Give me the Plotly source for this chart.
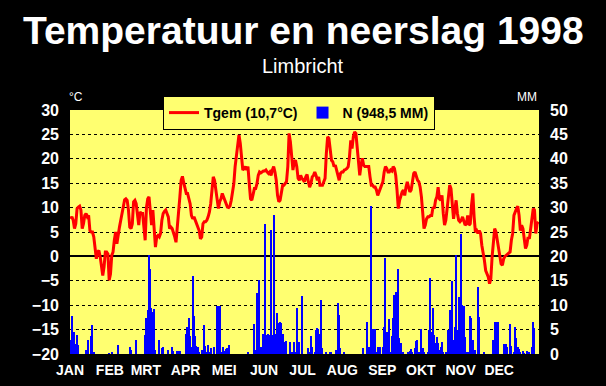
import plotly.graph_objects as go

months = ["JAN", "FEB", "MRT", "APR", "MEI", "JUN", "JUL", "AUG", "SEP", "OKT", "NOV", "DEC"]
month_days = [31, 28, 31, 30, 31, 30, 31, 31, 30, 31, 30, 31]

# Daily mean temperature (°C)
tgem_jan = [7.7, 8.1, 7.4, 5.7, 6.7, 9.8, 10.1, 10.3, 9.5, 5.7, 6.7, 8.4, 8.8, 8.1, 8.4, 5.3, 5.0, 5.0, 4.0, 1.9,
            -0.5, 0.9, 1.2, -0.1, -2.2, -3.9, -2.2, 0.9, 0.9, 0.5, -4.9]
tgem_feb = [-3.6, 0.2, 0.9, 3.3, 5.0, 2.6, 4.7, 6.0, 7.4, 8.8, 10.8, 11.6, 11.8, 11.5, 9.5, 6.0, 5.7, 6.7, 11.2, 11.5,
            10.8, 8.8, 6.4, 9.1, 8.8, 8.8, 5.3, 3.3]
tgem_mrt = [10.0, 11.8, 12.2, 8.8, 6.4, 9.5, 4.7, 1.9, 4.0, 4.3, 4.0, 4.7, 7.4, 8.8, 9.2, 9.5, 8.8, 8.1, 5.7, 6.0,
            5.7, 5.0, 4.0, 2.9, 6.0, 7.4, 12.2, 15.6, 16.4, 15.1, 13.6]
tgem_apr = [12.9, 12.9, 11.5, 10.8, 8.4, 7.7, 8.1, 7.4, 7.1, 6.4, 5.3, 3.6, 4.0, 6.7, 7.1, 7.1, 7.4, 8.1, 9.1, 10.8,
            13.6, 16.3, 15.6, 13.9, 12.5, 9.8, 11.2, 11.8, 12.9, 12.2]
tgem_mei = [11.8, 11.2, 10.1, 10.0, 10.3, 11.5, 13.6, 14.9, 18.4, 20.4, 23.2, 24.9, 23.2, 20.1, 17.7, 18.0, 18.4, 17.7,
            18.4, 14.9, 11.8, 11.5, 12.9, 13.9, 13.9, 14.9, 16.6, 17.3, 17.1, 17.3, 17.5]
tgem_jun = [17.5, 17.7, 17.3, 17.0, 17.3, 16.6, 17.7, 18.4, 17.3, 15.6, 12.5, 11.2, 11.5, 13.6, 14.6, 14.6, 14.9, 15.3,
            18.4, 25.2, 23.5, 20.4, 17.7, 19.4, 19.7, 18.4, 16.0, 15.6, 16.6, 16.0]
tgem_jul = [15.6, 15.3, 16.3, 16.8, 15.3, 14.2, 14.9, 16.3, 16.6, 17.3, 16.6, 15.6, 16.3, 14.6, 14.6, 14.6, 15.3, 16.0,
            21.1, 24.5, 24.2, 21.1, 19.7, 19.4, 18.4, 18.7, 17.7, 16.6, 15.6, 17.0, 17.3]
tgem_aug = [17.3, 17.7, 17.8, 18.0, 18.4, 20.4, 23.8, 22.1, 24.5, 25.5, 25.2, 21.8, 18.4, 16.6, 18.7, 20.1, 18.7, 18.4,
            18.4, 18.4, 18.4, 16.3, 14.6, 14.6, 14.2, 14.2, 13.6, 12.5, 13.2, 14.2, 14.9]
tgem_sep = [15.3, 17.3, 18.4, 18.0, 17.3, 17.3, 17.7, 17.5, 18.4, 18.0, 16.6, 13.6, 9.8, 11.5, 12.5, 13.2, 13.6, 12.5,
            14.2, 15.3, 14.2, 13.2, 13.6, 15.6, 17.0, 17.3, 16.2, 15.6, 15.3, 14.2]
tgem_okt = [12.2, 8.8, 5.7, 6.4, 7.7, 8.1, 8.1, 8.4, 8.4, 10.1, 9.8, 11.5, 12.2, 14.2, 11.8, 11.5, 12.5, 8.8, 6.4, 7.4,
            10.3, 12.5, 14.6, 13.9, 10.3, 7.7, 9.5, 11.5, 8.8, 7.4, 7.1]
tgem_nov = [7.4, 8.1, 7.1, 6.4, 6.7, 8.4, 6.4, 6.7, 10.5, 12.9, 8.1, 5.0, 5.3, 4.7, 5.3, 4.7, 2.3, 0.9, -0.8, -2.9,
            -3.6, -4.2, -5.6, -4.6, -0.1, 2.6, 5.7, 5.0, 3.3, 0.9]
tgem_dec = [-0.1, -1.5, -1.8, -0.5, 0.0, 0.2, 0.5, 0.7, 0.9, 3.3, 4.7, 8.4, 9.3, 9.8, 10.3, 8.4, 5.3, 6.4, 5.7, 4.0,
            1.6, 2.3, 4.0, 3.6, 6.0, 8.1, 9.8, 9.5, 4.7, 6.7, 7.1]

# Daily precipitation (mm)
n_jan = [2.9, 7.8, 3.9, 4.6, 2.1, 3.9, 1.8, 0, 0, 0, 0, 0, 0.8, 0.8, 2.9, 0, 3.7, 6.0, 0.3, 0,
         0, 0, 0, 0, 0, 0, 0, 0, 0, 0, 0.2]
n_feb = [0, 0.3, 0, 0, 0, 0, 1.8, 0, 0, 0, 0, 0, 0, 0, 0, 1.5, 0.8, 0, 0, 0,
         2.9, 0, 0, 0, 0, 0, 0, 3.9]
n_mrt = [7.3, 9.0, 20.3, 17.5, 9.5, 8.7, 9.2, 0.8, 0, 0, 2.9, 0, 1.2, 1.5, 0, 0, 0, 0.8, 0, 0,
         1.5, 0.7, 0, 0, 0.7, 0.7, 0.7, 0, 0, 0, 0]
n_apr = [4.2, 5.5, 7.3, 3.6, 1.5, 15.9, 7.7, 3.6, 1.6, 1.5, 0.5, 0, 0.8, 0, 6.0, 1.6, 0.3, 1.8, 0.3, 1.2,
         0, 0, 1.5, 0, 9.9, 9.9, 9.9, 0.5, 0.5, 1.4]
n_mei = [0.7, 1.0, 1.2, 1.8, 0, 0, 0, 0, 0, 0, 0, 0, 0, 0, 0, 0, 0, 0, 0.3, 0,
         0, 0, 0, 6.2, 0.8, 12.5, 4.2, 15.2, 1.5, 0, 4.2]
n_jun = [26.7, 3.9, 3.9, 4.2, 3.9, 25.5, 3.9, 28.4, 4.0, 1.5, 8.4, 6.3, 6.6, 6.3, 4.2, 2.5, 0.5, 2.7, 0, 0,
         2.5, 0.5, 0, 2.5, 0.5, 9.4, 0.5, 2.5, 0, 11.8]
n_jul = [0, 0, 0, 0, 1.2, 0.3, 3.7, 1.5, 0, 0.5, 4.9, 5.4, 5.2, 4.2, 11.1, 1.2, 0, 0, 0.5, 0,
         0, 0.5, 0.3, 0, 0, 0, 0.8, 10.4, 8.0, 1.2, 0]
n_aug = [0, 0.5, 0, 0, 0, 0, 0, 0, 0, 0, 0, 0, 0, 0, 0, 0, 1.2, 0, 0, 6.6,
         1.5, 0.5, 30.3, 5.1, 5.1, 5.1, 0.5, 1.5, 0, 1.5, 0]
n_sep = [1.5, 5.5, 19.7, 4.5, 4.2, 7.1, 0.5, 3.6, 7.3, 12.1, 12.8, 4.0, 17.5, 3.2, 2.2, 0.3, 0.3, 0, 0, 0,
         0.5, 0.7, 1.0, 0.5, 0, 1.2, 2.6, 2.9, 0.5, 0]
n_okt = [5.1, 1.2, 0.3, 0, 0, 0.3, 4.9, 15.5, 4.6, 9.5, 3.9, 2.2, 3.4, 2.3, 0.8, 1.5, 2.5, 0.3, 0, 0.5,
         0, 4.9, 9.0, 6.0, 14.9, 2.9, 5.5, 20.3, 5.0, 11.6, 3.7]
n_nov = [24.5, 10.0, 9.8, 3.5, 0.5, 0.3, 0, 7.8, 7.3, 2.9, 0, 0.8, 0, 13.8, 7.5, 0, 0, 0, 0.5, 0,
         0, 0, 0, 0, 0, 2.9, 6.6, 6.6, 6.6, 6.6]
n_dec = [0, 0, 0, 2.1, 2.1, 2.1, 1.5, 0, 6.2, 1.6, 0, 0.5, 5.5, 3.2, 1.5, 1.0, 0.5, 0, 0.7, 0.2,
         0, 0.7, 0.3, 0.5, 0, 1.5, 6.6, 5.3, 0, 0, 0]

temp_label = "Tgem (10,7°C)"
prec_label = "N (948,5 MM)"
temp_ticks = list(range(-20, 31, 5))
prec_ticks = list(range(0, 51, 5))

tgem = (tgem_jan + tgem_feb + tgem_mrt + tgem_apr + tgem_mei + tgem_jun +
        tgem_jul + tgem_aug + tgem_sep + tgem_okt + tgem_nov + tgem_dec)
neerslag = (n_jan + n_feb + n_mrt + n_apr + n_mei + n_jun +
            n_jul + n_aug + n_sep + n_okt + n_nov + n_dec)

days = [i + 0.5 for i in range(len(tgem))]
month_starts = []
acc = 0
for m in month_days:
    month_starts.append(acc)
    acc += m

FONT = "Liberation Sans, Arial, sans-serif"
W, H = 606, 386
L, R, T, B = 70, 67, 110, 32
PW, PH = W - L - R, H - T - B


def px(x):
    return (x - L) / PW


def py(y):
    return (H - B - y) / PH


fig = go.Figure()
fig.add_trace(go.Scatter(
    x=days, y=tgem, mode="lines", name=temp_label,
    line=dict(color="#FF0000", width=3), yaxis="y",
))
fig.add_trace(go.Bar(
    x=days, y=neerslag, name=prec_label, width=1.0,
    marker=dict(color="#0000FF", line=dict(width=0)), yaxis="y2",
))

fig.update_layout(
    width=W, height=H,
    margin=dict(l=L, r=R, t=T, b=B, pad=0, autoexpand=False),
    paper_bgcolor="#000000",
    plot_bgcolor="#FFFF70",
    bargap=0,
    showlegend=True,
    legend=dict(
        orientation="h", x=px(299), y=py(96), xanchor="center", yanchor="top",
        bgcolor="#FFFF70", bordercolor="#000000", borderwidth=1,
        font=dict(family=FONT, size=14, color="#000000", weight="bold"),
        itemwidth=30, tracegroupgap=0,
    ),
    xaxis=dict(
        range=[0, 365], tickmode="array", tickvals=month_starts, ticktext=months,
        showgrid=False, zeroline=False, showline=False, ticks="",
        tickfont=dict(family=FONT, size=14, color="#FFFFFF", weight="bold"),
        ticklabelstandoff=6,
    ),
    yaxis=dict(
        range=[-20, 30], tickmode="array", tickvals=temp_ticks,
        showgrid=True, gridcolor="#000000", gridwidth=1, griddash="dot",
        zeroline=True, zerolinecolor="#000000", zerolinewidth=1.5,
        showline=False, ticks="",
        tickfont=dict(family=FONT, size=16, color="#FFFFFF", weight="bold"),
        ticklabelstandoff=10,
    ),
    yaxis2=dict(
        range=[0, 50], tickmode="array", tickvals=prec_ticks,
        overlaying="y", side="right", showgrid=False, zeroline=False,
        showline=False, ticks="",
        tickfont=dict(family=FONT, size=16, color="#FFFFFF", weight="bold"),
        ticklabelstandoff=10,
    ),
    annotations=[
        dict(text="Temperatuur en neerslag 1998", xref="paper", yref="paper",
             x=px(303), y=py(30), xanchor="center", yanchor="middle", showarrow=False,
             font=dict(family=FONT, size=39, color="#FFFFFF", weight="bold")),
        dict(text="Limbricht", xref="paper", yref="paper",
             x=px(303), y=py(66), xanchor="center", yanchor="middle", showarrow=False,
             font=dict(family=FONT, size=20, color="#FFFFFF")),
        dict(text="°C", xref="paper", yref="paper",
             x=px(76), y=py(97), xanchor="center", yanchor="middle", showarrow=False,
             font=dict(family=FONT, size=12, color="#FFFFFF")),
        dict(text="MM", xref="paper", yref="paper",
             x=px(527), y=py(97), xanchor="center", yanchor="middle", showarrow=False,
             font=dict(family=FONT, size=12, color="#FFFFFF")),
    ],
)

fig.write_html("out.html", config={"displayModeBar": False},
               post_script="document.body.style.margin='0';")
